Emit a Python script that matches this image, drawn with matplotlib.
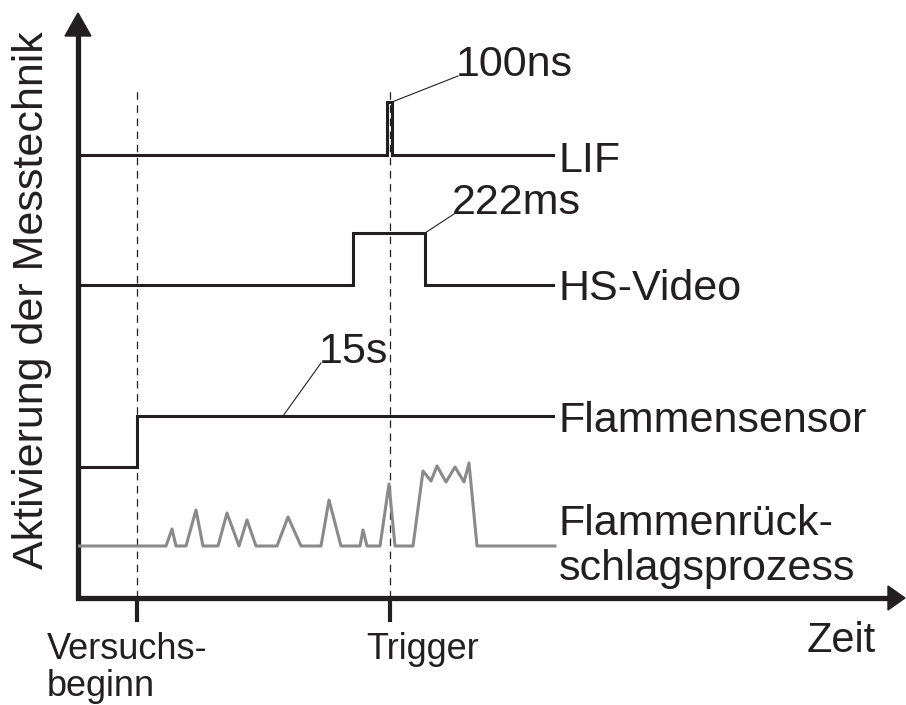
import matplotlib.pyplot as plt

plt.rcParams['font.family'] = ['Liberation Sans', 'DejaVu Sans']

# x: time from the axis origin, y: height above the time axis (both)
t_start = 59      # Versuchsbeginn
t_trigger = 312   # Trigger
t_end = 475

lif_x = [0, 309, 309, 314, 314, t_end]
lif_y = [443, 443, 496, 496, 443, 443]

video_x = [0, 275, 275, 347, 347, t_end]
video_y = [313, 313, 365, 365, 313, 313]

sensor_x = [0, t_start, t_start, t_end]
sensor_y = [131, 131, 182, 182]

flash_x = [0, 88, 94, 98, 108, 118, 125, 140, 149, 161, 169, 178, 199, 210, 223,
           243, 251, 263, 282, 285, 289, 302, 311, 317, 335, 345, 353, 359, 368,
           377, 386, 391, 399, 477]
flash_y = [52, 52, 69, 52, 52, 88, 52, 52, 85, 52, 78, 52, 52, 81, 52,
           52, 98, 52, 52, 68, 52, 52, 114, 52, 52, 127, 117, 132, 116,
           131, 116, 135, 52, 52]

line_names = ['LIF', 'HS-Video', 'Flammensensor', 'Flammenrück-\nschlagsprozess']
name_y = [426, 298, 166, 63]

durations = ['100ns', '222ms', '15s']
dur_from = [(314, 496), (347, 365), (205, 182)]
dur_to = [(380, 522), (376, 384), (243, 235)]

tick_pos = [t_start, t_trigger]
tick_labels = ['Versuchs-\nbeginn', 'Trigger']
tick_label_x = [-31, 288]

black = '#231f20'
gray = '#8a8a8a'

fig = plt.figure(figsize=(9.06, 7.05), dpi=100)
ax = fig.add_axes([78 / 906, 107 / 705, 827 / 906, 585 / 705])
ax.set_xlim(0, 827)
ax.set_ylim(0, 585)
ax.axis('off')

# axes with arrow heads
ax.plot([0, 0, 812], [564, 0, 0], color=black, lw=3.8, solid_joinstyle='miter',
        solid_capstyle='butt', clip_on=False)
ax.fill([-13, 13, 0], [562, 562, 585], color=black, clip_on=False)
ax.fill([810, 810, 827], [-12, 12, 0], color=black, clip_on=False)

# ticks, dashed markers and their labels
for x, lab, lx in zip(tick_pos, tick_labels, tick_label_x):
    ax.plot([x, x], [0, 508], color=black, lw=0.9, dashes=(6, 4.5))
    ax.plot([x, x], [0, -24], color=black, lw=3, solid_capstyle='butt', clip_on=False)
    for i, part in enumerate(lab.split('\n')):
        ax.text(lx, -61 - 37 * i, part, fontsize=26, color=black, ha='left',
                va='baseline', clip_on=False)
ax.text(729, -54, 'Zeit', fontsize=30, color=black, ha='left', va='baseline')

# signals
ax.plot(lif_x, lif_y, color=black, lw=2.2, solid_joinstyle='miter')
ax.plot(video_x, video_y, color=black, lw=2.2, solid_joinstyle='miter')
ax.plot(sensor_x, sensor_y, color=black, lw=2.2, solid_joinstyle='miter')
ax.plot(flash_x, flash_y, color=gray, lw=2.2)

for name, y in zip(line_names, name_y):
    for i, part in enumerate(name.split('\n')):
        ax.text(481, y - 45 * i, part, fontsize=31, color=black, ha='left',
                va='baseline')

for lab, p0, p1 in zip(durations, dur_from, dur_to):
    ax.plot([p0[0], p1[0]], [p0[1], p1[1]], color=black, lw=0.8)
    ax.text(p1[0] - 2, p1[1], lab, fontsize=31, color=black, ha='left', va='baseline')

fig.text(32 / 906, 1 - 300 / 705, 'Aktivierung der Messtechnik', fontsize=31,
         color=black, rotation=90, ha='center', va='center')

fig.savefig('out.png', dpi=100)
